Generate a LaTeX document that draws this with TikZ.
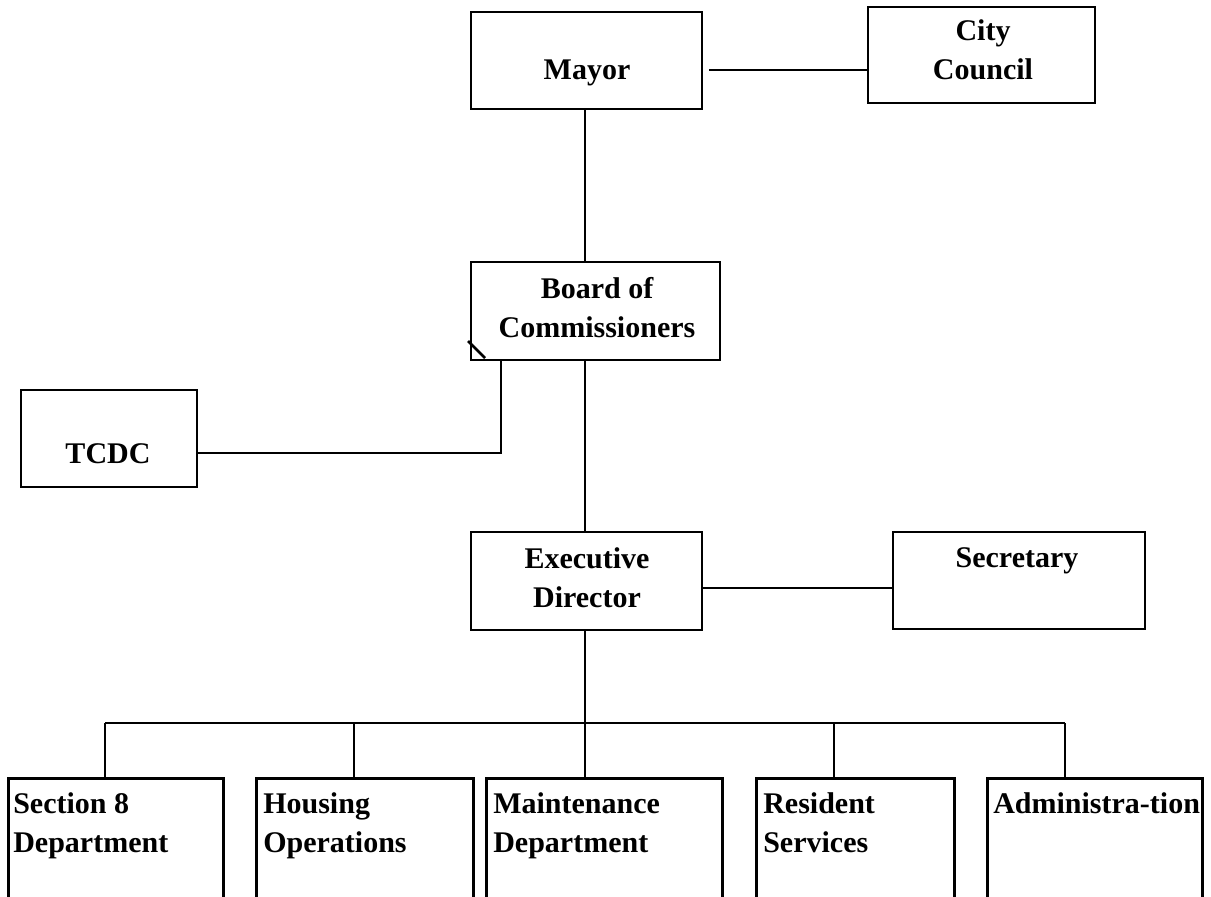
\documentclass[tikz,border=0pt]{standalone}
\usepackage{fontspec}
\setmainfont{Liberation Serif}
\begin{document}
\begin{tikzpicture}[x=1pt,y=-1pt,line width=2.6pt]
\tikzset{
  box/.style={draw, inner sep=0pt},
  openbox/.style={draw=none, inner sep=0pt, minimum height=130pt},
  lbl/.style={font=\bfseries\fontsize{30}{39}\selectfont, inner sep=0pt, align=center, anchor=base},
  llbl/.style={font=\bfseries\fontsize{30}{39}\selectfont, inner sep=0pt, align=left, anchor=base west},
  link/.style={draw, line width=2.6pt}
}
\useasboundingbox (0,0) rectangle (1211,897);
% boxes
\node[box, minimum width=231pt, minimum height=97pt] (mayor) at (586.5,60.5) {};
\node[box, minimum width=227pt, minimum height=96pt] (council) at (981.5,55) {};
\node[box, minimum width=249pt, minimum height=98pt] (board) at (595.5,311) {};
\node[box, minimum width=176pt, minimum height=97pt] (tcdc) at (109,438.5) {};
\node[box, minimum width=231pt, minimum height=98pt] (exec) at (586.5,581) {};
\node[box, minimum width=252pt, minimum height=97pt] (secr) at (1019,580.5) {};
\node[openbox, minimum width=212pt] (sec8) at (116,845) {};
\node[openbox, minimum width=214pt] (hous) at (365,845) {};
\node[openbox, minimum width=233pt] (maint) at (604.5,845) {};
\node[openbox, minimum width=195pt] (resid) at (855.5,845) {};
\node[openbox, minimum width=212pt] (admin) at (1095,845) {};
\foreach \b in {sec8,hous,maint,resid,admin}{
  \draw (\b.south west) -- (\b.north west) -- (\b.north east) -- (\b.south east);
}
% labels (multi-line: anchor base = last line's baseline)
\node[lbl] (mayor-t) at (587,79) {Mayor};
\node[lbl] (council-t) at (983,79) {City\\Council};
\node[lbl] (board-t) at (597,337) {Board of\\Commissioners};
\node[lbl] (tcdc-t) at (108,463) {TCDC};
\node[lbl] (exec-t) at (587,607) {Executive\\Director};
\node[lbl] (secr-t) at (1017,567) {Secretary};
\node[llbl] (sec8-t) at (12,852) {Section 8\\Department};
\node[llbl] (hous-t) at (262,852) {Housing\\Operations};
\node[llbl] (maint-t) at (492,852) {Maintenance\\Department};
\node[llbl] (resid-t) at (762,852) {Resident\\Services};
\node[llbl] (admin-t) at (992,813) {Administra-tion};
% helper coordinates
\coordinate (y70) at (0,70);
\coordinate (y453) at (0,453);
\coordinate (y588) at (0,588);
\coordinate (bus) at (0,723);
\coordinate (x105) at (105,0);
\coordinate (x354) at (354,0);
\coordinate (x501) at (501,0);
\coordinate (x585) at (585,0);
\coordinate (x834) at (834,0);
\coordinate (x1065) at (1065,0);
% connectors
\draw[link] ([xshift=6pt]mayor.east |- y70) -- (council.west |- y70);
\draw[link] (x585 |- mayor.south) -- (x585 |- board.north);
\draw[link] (x501 |- board.south) -- (x501 |- y453) -- (tcdc.east |- y453);
\draw[link] (468,341) -- (485,358);
\draw[link] (x585 |- board.south) -- (x585 |- exec.north);
\draw[link] (exec.east |- y588) -- (secr.west |- y588);
\draw[link] (x585 |- exec.south) -- (x585 |- bus);
\draw[link] (x105 |- bus) -- (x1065 |- bus);
\draw[link] (x105 |- bus) -- (x105 |- sec8.north);
\draw[link] (x354 |- bus) -- (x354 |- hous.north);
\draw[link] (x585 |- bus) -- (x585 |- maint.north);
\draw[link] (x834 |- bus) -- (x834 |- resid.north);
\draw[link] (x1065 |- bus) -- (x1065 |- admin.north);
\end{tikzpicture}
\end{document}
